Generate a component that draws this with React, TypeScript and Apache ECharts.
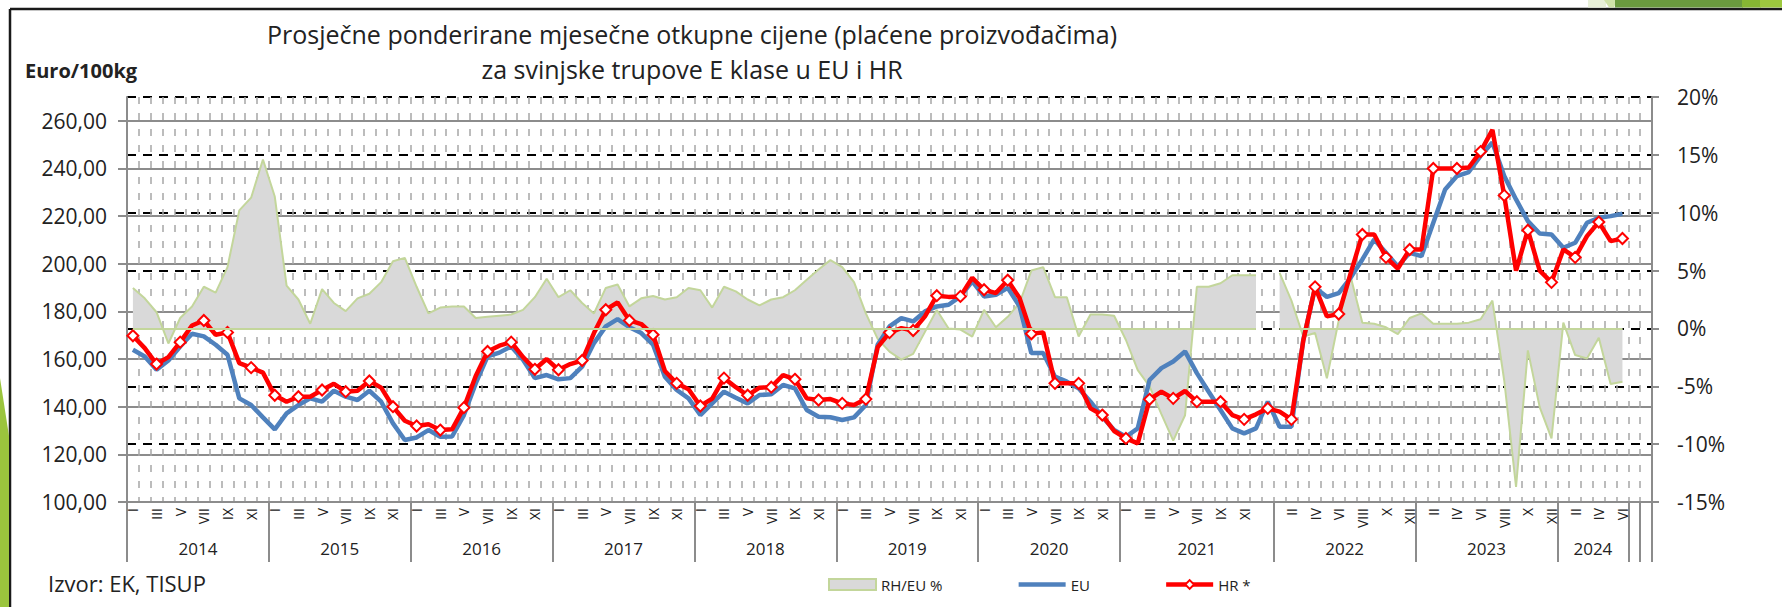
import React, { useEffect, useRef } from 'react';
import * as echarts from 'echarts';

const FONT = "'Open Sans', 'Liberation Sans', sans-serif";

// Category structure (Excel multi-level axis: year groups with Roman month labels)
const years = ['2014', '2015', '2016', '2017', '2018', '2019', '2020', '2021', '2022', '2023', '2024', '', ''];
const monthsPerGroup = [12, 12, 12, 12, 12, 12, 12, 13, 12, 12, 6, 1, 1];
const romanMonths = ['I', 'II', 'III', 'IV', 'V', 'VI', 'VII', 'VIII', 'IX', 'X', 'XI', 'XII'];

// HR * (Euro/100kg)
const hrPrices = [
  169.8, 164.6, 157.9, 160.8, 167.1, 174.1, 176.2, 170.2, 171.2, 158.3, 156.4, 154.3,
  144.8, 142.1, 144.2, 144.2, 147.0, 149.6, 146.3, 146.7, 150.8, 148.0, 140.0, 134.1,
  131.9, 132.6, 130.2, 130.5, 139.6, 152.9, 163.2, 165.6, 167.1, 160.8, 155.7, 160.0,
  155.5, 157.9, 159.4, 170.9, 180.7, 183.8, 176.2, 174.7, 170.2, 155.0, 149.8, 147.3,
  140.3, 143.4, 152.0, 148.2, 144.8, 148.0, 148.2, 153.3, 151.5, 143.5, 142.8, 143.2,
  141.4, 140.7, 143.2, 165.0, 171.1, 173.0, 172.0, 177.9, 186.6, 186.1, 186.3, 194.1,
  189.1, 187.7, 193.1, 185.6, 170.6, 171.2, 149.8, 149.8, 149.8, 139.3, 136.5, 129.8,
  126.7, 124.6, 143.1, 146.3, 143.5, 146.6, 142.1, 142.1, 142.1, 136.5, 134.7, 136.8,
  139.3, 137.9, 134.7, 167.7, 190.3, 177.9, 178.9, 195.9, 212.3, 212.3, 202.7, 198.0,
  206.0, 206.0, 240.0, 240.0, 240.0, 240.4, 247.1, 256.2, 228.7, 197.1, 214.1, 197.1,
  192.2, 206.0, 202.7, 211.6, 217.5, 209.5, 210.6,
];

// EU (Euro/100kg)
const euPrices = [
  163.9, 161.1, 155.5, 159.4, 165.3, 170.6, 169.5, 166.0, 161.8, 143.5, 140.7, 135.5,
  130.5, 137.2, 140.7, 143.5, 142.1, 146.7, 144.2, 142.8, 146.7, 142.1, 133.0, 126.0,
  127.1, 130.2, 127.4, 127.5, 136.5, 149.8, 161.1, 162.7, 165.3, 159.7, 152.0, 153.3,
  151.5, 152.0, 156.8, 166.7, 173.7, 176.8, 173.4, 170.9, 166.0, 152.6, 147.0, 143.5,
  136.5, 141.4, 146.3, 143.8, 141.4, 144.9, 145.2, 149.1, 147.7, 138.6, 135.8, 135.6,
  134.4, 135.5, 140.7, 166.0, 173.7, 177.2, 175.8, 180.0, 182.1, 182.8, 186.3, 192.6,
  186.3, 187.0, 189.9, 182.1, 162.5, 162.5, 152.6, 150.5, 147.7, 142.1, 135.8, 130.2,
  127.4, 130.9, 151.2, 156.2, 159.0, 163.2, 154.1, 146.3, 138.6, 130.9, 128.8, 130.9,
  142.1, 131.6, 131.6, 168.0, 189.9, 186.1, 187.7, 194.1, 201.8, 210.2, 204.6, 198.9,
  204.6, 203.2, 217.2, 231.2, 236.8, 238.5, 245.3, 250.9, 236.8, 227.0, 217.9, 212.7,
  212.3, 206.7, 208.8, 217.2, 219.3, 220.0, 221.0,
];

// RH/EU % (right axis)
const hrEuPct: (number | null)[] = [
  3.5, 2.6, 1.4, -1.3, 0.9, 1.9, 3.6, 3.1, 5.3, 10.2, 11.3, 14.6,
  11.4, 3.7, 2.5, 0.4, 3.4, 2.2, 1.5, 2.6, 3.0, 4.0, 5.8, 6.1,
  3.6, 1.3, 1.8, 1.9, 1.9, 0.9, 1.0, 1.1, 1.2, 1.6, 2.7, 4.3,
  2.7, 3.3, 2.2, 1.3, 3.5, 3.8, 1.9, 2.6, 2.8, 2.5, 2.7, 3.5,
  3.3, 1.8, 3.6, 3.2, 2.5, 2.0, 2.5, 2.7, 3.3, 4.2, 5.1, 5.9,
  5.3, 4.0, 1.3, -0.9, -2.0, -2.7, -2.2, -0.3, 1.6, 0.0, -0.1, -0.7,
  1.6, 0.1, 1.0, 2.2, 5.0, 5.3, 2.7, 2.7, -0.7, 1.2, 1.2, 1.1,
  -1.0, -3.6, -5.0, -7.4, -9.7, -7.5, 3.6, 3.6, 3.9, 4.6, 4.6, 4.6,
  null, 4.8, 2.4, -0.7, -0.4, -4.3, 0.7, 4.5, 0.5, 0.4, 0.1, -0.5,
  0.9, 1.3, 0.4, 0.4, 0.4, 0.5, 0.8, 2.4, -4.5, -13.7, -1.9, -6.8,
  -9.5, 0.5, -2.3, -2.6, -0.8, -4.8, -4.6,
];

// Build category labels and group boundaries
const groupStarts: number[] = [];
const monthLabels: string[] = [];
years.forEach((y, g) => {
  groupStarts.push(monthLabels.length);
  for (let k = 0; k < monthsPerGroup[g]; k++) {
    monthLabels.push(y ? romanMonths[k] ?? '' : '');
  }
});
const totalCats = monthLabels.length;
const boundarySet = new Set(groupStarts);
const yearCenters = years.map((y, g) => ({ year: y, center: groupStarts[g] + monthsPerGroup[g] / 2 }));

// Non-null runs of the area series (for its baseline border)
const areaRuns: [number, number][] = [];
{
  let start = -1;
  hrEuPct.forEach((v, i) => {
    if (v !== null && start < 0) start = i;
    if ((v === null || i === hrEuPct.length - 1) && start >= 0) {
      areaRuns.push([start, v === null ? i - 1 : i]);
      start = -1;
    }
  });
}

const TEXT = '#222222';

export default function App() {
  const ref = useRef<HTMLDivElement>(null);

  useEffect(() => {
    if (!ref.current) return;
    const chart = echarts.init(ref.current, undefined, { renderer: 'svg' });
    const option: any = {
      animation: false,
      backgroundColor: '#ffffff',
      textStyle: { fontFamily: FONT },
      title: [
        {
          text: 'Prosječne ponderirane mjesečne otkupne cijene (plaćene proizvođačima)\nza svinjske trupove E klase u EU i HR',
          left: 692,
          top: 16,
          padding: 0,
          textAlign: 'center',
          textStyle: { fontFamily: FONT, fontSize: 25, fontWeight: 'normal', color: TEXT, lineHeight: 35 },
        },
        {
          text: 'Euro/100kg',
          left: 25,
          top: 57,
          padding: 0,
          textStyle: { fontFamily: FONT, fontSize: 20, fontWeight: 'bold', color: TEXT, lineHeight: 26 },
        },
        {
          text: 'Izvor: EK, TISUP',
          left: 48,
          top: 569,
          padding: 0,
          textStyle: { fontFamily: FONT, fontSize: 22, fontWeight: 'normal', color: TEXT, lineHeight: 28 },
        },
      ],
      legend: {
        left: 823,
        top: 572,
        itemWidth: 47,
        itemHeight: 11,
        itemGap: 74,
        textStyle: { fontFamily: FONT, fontSize: 15, color: TEXT },
        data: [
          { name: 'RH/EU %', icon: 'rect', itemStyle: { color: '#d9d9d9', borderColor: '#c3d69b', borderWidth: 2 } },
          { name: 'EU', itemStyle: { opacity: 0 }, lineStyle: { width: 4.5, color: '#4f81bd' } },
          { name: 'HR *', lineStyle: { width: 4.5, color: '#ff0000' } },
        ],
      },
      grid: { left: 127, right: 130, top: 97, bottom: 105, containLabel: false, outerBoundsMode: 'none' },
      xAxis: [
        {
          type: 'category',
          data: monthLabels,
          boundaryGap: true,
          position: 'bottom',
          axisLine: { show: true, onZero: false, lineStyle: { color: '#8c8c8c', width: 2 } },
          axisTick: {
            show: true,
            length: 60,
            interval: (index: number) => boundarySet.has(index),
            lineStyle: { color: '#8c8c8c', width: 2 },
          },
          axisLabel: {
            interval: (index: number) => index % 2 === 0,
            rotate: 90,
            margin: 6,
            fontFamily: FONT,
            fontSize: 14,
            color: TEXT,
          },
          splitLine: { show: true, interval: 0, lineStyle: { color: '#a6a6a6', width: 1.5, type: [7, 9] } },
        },
        {
          type: 'value',
          min: 0,
          max: totalCats,
          interval: 0.5,
          position: 'bottom',
          axisLine: { show: false },
          axisTick: { show: false },
          splitLine: { show: false },
          axisLabel: {
            margin: 38,
            fontFamily: FONT,
            fontSize: 17,
            color: TEXT,
            showMinLabel: true,
            showMaxLabel: true,
            formatter: (v: number) => {
              const g = yearCenters.find((c) => Math.abs(c.center - v) < 1e-6);
              return g ? g.year : '';
            },
          },
        },
      ],
      yAxis: [
        {
          type: 'value',
          min: 100,
          max: 270,
          interval: 20,
          position: 'left',
          axisLine: { show: true, lineStyle: { color: '#8c8c8c', width: 2 } },
          axisTick: { show: true, length: 9, lineStyle: { color: '#8c8c8c', width: 2 } },
          axisLabel: {
            margin: 20,
            showMaxLabel: false,
            fontFamily: FONT,
            fontSize: 21,
            color: TEXT,
            formatter: (v: number) => v.toFixed(2).replace('.', ','),
          },
          splitLine: {
            show: true,
            showMinLine: false,
            showMaxLine: false,
            lineStyle: { color: '#8c8c8c', width: 2 },
          },
        },
        {
          type: 'value',
          min: -15,
          max: 20,
          interval: 5,
          position: 'right',
          axisLine: { show: true, lineStyle: { color: '#8c8c8c', width: 2 } },
          axisTick: { show: true, length: 7, lineStyle: { color: '#8c8c8c', width: 2 } },
          axisLabel: {
            margin: 25,
            fontFamily: FONT,
            fontSize: 21,
            color: TEXT,
            formatter: (v: number) => `${v}%`,
          },
          splitLine: {
            show: true,
            showMinLine: false,
            lineStyle: { color: '#000000', width: 2, type: [9, 7] },
          },
        },
      ],
      series: [
        {
          name: 'RH/EU %',
          type: 'line',
          yAxisIndex: 1,
          data: hrEuPct,
          symbol: 'none',
          connectNulls: false,
          z: 2,
          lineStyle: { color: '#c3d69b', width: 2 },
          itemStyle: { color: '#d9d9d9', borderColor: '#c3d69b' },
          areaStyle: { color: '#d9d9d9', opacity: 1 },
          markLine: {
            silent: true,
            symbol: ['none', 'none'],
            label: { show: false },
            lineStyle: { color: '#c3d69b', width: 2, type: 'solid' },
            data: areaRuns.map(([a, b]) => [{ coord: [a, 0] }, { coord: [b, 0] }]),
          },
        },
        {
          name: 'EU',
          type: 'line',
          data: euPrices,
          symbol: 'none',
          z: 3,
          lineStyle: { color: '#4f81bd', width: 4.5 },
          itemStyle: { color: '#4f81bd' },
        },
        {
          name: 'HR *',
          type: 'line',
          data: hrPrices,
          symbol: 'diamond',
          symbolSize: 11,
          showSymbol: true,
          z: 4,
          lineStyle: { color: '#ff0000', width: 4.5 },
          itemStyle: { color: '#ffffff', borderColor: '#ff0000', borderWidth: 2 },
        },
      ],
      graphic: [
        { type: 'line', silent: true, z: 100, shape: { x1: 10, y1: 9, x2: 1782, y2: 9 }, style: { stroke: '#1a1a1a', lineWidth: 2.5 } },
        { type: 'line', silent: true, z: 100, shape: { x1: 10, y1: 9, x2: 10, y2: 607 }, style: { stroke: '#1a1a1a', lineWidth: 2.5 } },
        { type: 'polygon', silent: true, z: 100, shape: { points: [[0, 378], [9, 436], [9, 607], [0, 607]] }, style: { fill: '#9bc53d' } },
        { type: 'rect', silent: true, z: 100, shape: { x: 1588, y: 0, width: 18, height: 7.5 }, style: { fill: '#e8f0d8' } },
        { type: 'polygon', silent: true, z: 100, shape: { points: [[1604, 0], [1617, 0], [1614, 7.5], [1609, 7.5]] }, style: { fill: '#cfe2a8' } },
        { type: 'rect', silent: true, z: 100, shape: { x: 1615, y: 0, width: 128, height: 7.5 }, style: { fill: '#6a9a3e' } },
        { type: 'rect', silent: true, z: 100, shape: { x: 1742, y: 0, width: 19, height: 7.5 }, style: { fill: '#86b533' } },
        { type: 'rect', silent: true, z: 100, shape: { x: 1760, y: 0, width: 22, height: 7.5 }, style: { fill: '#9dc93e' } },
      ],
    };
    chart.setOption(option);
    return () => {
      chart.dispose();
    };
  }, []);

  return (
    <div
      ref={ref}
      style={{ position: 'fixed', left: 0, top: 0, width: 1782, height: 607, background: '#ffffff' }}
    />
  );
}
